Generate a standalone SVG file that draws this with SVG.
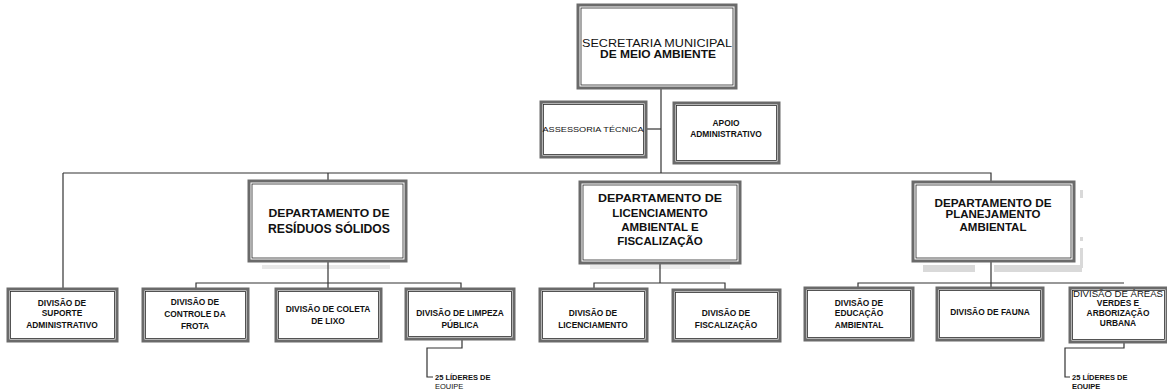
<svg xmlns="http://www.w3.org/2000/svg" width="1167" height="389" viewBox="0 0 1167 389">
<style>
.bg{fill:#ffffff}
.outer{fill:#ffffff;stroke:#6a6a6a;stroke-width:3}
.inner{fill:none;stroke:#2a2a2a;stroke-width:0.8}
.line{fill:none;stroke:#333;stroke-width:1.2}
.shadow{fill:#d9d9d9}
text{font-family:"Liberation Sans",Arial,sans-serif;fill:#111;text-anchor:middle}
.sec{font-size:10.5px}
.secb{font-size:10.5px;font-weight:bold}
.dept{font-size:11.5px;font-weight:bold}
.deptb{font-size:13.5px;font-weight:bold}
.div{font-size:8.4px;font-weight:bold}
.small{font-size:7px}
.lead{font-size:7.5px;font-weight:bold;text-anchor:start}
</style>
<rect class="bg" x="0" y="0" width="1167" height="389"/>
<g id="decor">
<rect class="shadow" x="262" y="265" width="128" height="4" opacity="0.6"/>
<rect class="shadow" x="590" y="265" width="140" height="4" opacity="0.5"/>
<rect class="shadow" x="923" y="265" width="52" height="7"/>
<rect class="shadow" x="994" y="265" width="88" height="7"/>
<rect class="shadow" x="1080" y="190" width="3" height="8"/>
<rect class="shadow" x="1080" y="237" width="3" height="4"/>
<rect class="shadow" x="1080" y="248" width="3" height="20"/>
</g>
<g id="connectors">
<path class="line" d="M661 89 V173"/>
<path class="line" d="M646 129 H661"/>
<path class="line" d="M63 173 H991 V182"/>
<path class="line" d="M63 173 V289"/>
<path class="line" d="M328 173 V181"/>
<path class="line" d="M328 261 V283"/>
<path class="line" d="M196 289 V283 H461 V289"/>
<path class="line" d="M328 283 V289"/>
<path class="line" d="M660 263 V283"/>
<path class="line" d="M594 289 V283 H725 V290"/>
<path class="line" d="M991 261 V283"/>
<path class="line" d="M858 288 V283 H1124"/>
<path class="line" d="M991 283 V288"/>
<path class="line" d="M462 340 V348 H427 V377 H433"/>
<path class="line" d="M1124 342 V348 H1065 V377 H1070"/>
</g>
<g id="n-secretaria">
<rect class="outer" x="578" y="5" width="158" height="83"/>
<rect class="inner" x="581" y="8" width="152" height="77"/>
<text class="sec" x="657" y="47" textLength="150" lengthAdjust="spacingAndGlyphs">SECRETARIA MUNICIPAL</text>
<text class="secb" x="658" y="58" textLength="116" lengthAdjust="spacingAndGlyphs">DE MEIO AMBIENTE</text>
</g>
<g id="n-assessoria">
<rect class="outer" x="541" y="102" width="105" height="55"/>
<rect class="inner" x="543.5" y="104.5" width="100" height="50"/>
<text class="small" x="593" y="131.5" textLength="101" lengthAdjust="spacingAndGlyphs">ASSESSORIA TÉCNICA</text>
</g>
<g id="n-apoio">
<rect class="outer" x="674" y="103" width="105" height="60"/>
<rect class="inner" x="676.5" y="105.5" width="100" height="55"/>
<text class="div" x="726" y="125.5">APOIO</text>
<text class="div" x="726" y="136.5">ADMINISTRATIVO</text>
</g>
<g id="n-dep-residuos">
<rect class="outer" x="249" y="181" width="157" height="80"/>
<rect class="inner" x="252" y="184" width="151" height="74"/>
<text class="dept" x="329" y="217" textLength="121" lengthAdjust="spacingAndGlyphs">DEPARTAMENTO DE</text>
<text class="deptb" x="329" y="233" textLength="122" lengthAdjust="spacingAndGlyphs">RESÍDUOS SÓLIDOS</text>
</g>
<g id="n-dep-licenciamento">
<rect class="outer" x="580" y="182" width="160" height="81"/>
<rect class="inner" x="583" y="185" width="154" height="75"/>
<text class="dept" x="660" y="202" textLength="124" lengthAdjust="spacingAndGlyphs">DEPARTAMENTO DE</text>
<text class="dept" x="660" y="217">LICENCIAMENTO</text>
<text class="dept" x="660" y="231">AMBIENTAL E</text>
<text class="dept" x="660" y="245">FISCALIZAÇÃO</text>
</g>
<g id="n-dep-planejamento">
<rect class="outer" x="913" y="182" width="161" height="79"/>
<rect class="inner" x="916" y="185" width="155" height="73"/>
<text class="dept" x="993" y="207" textLength="117" lengthAdjust="spacingAndGlyphs">DEPARTAMENTO DE</text>
<text class="dept" x="993" y="218">PLANEJAMENTO</text>
<text class="dept" x="993" y="231">AMBIENTAL</text>
</g>
<g id="n-div-suporte">
<rect class="outer" x="8" y="289" width="109" height="52"/>
<rect class="inner" x="10.5" y="291.5" width="104" height="47"/>
<text class="div" x="62" y="305.5">DIVISÃO DE</text>
<text class="div" x="62" y="316">SUPORTE</text>
<text class="div" x="62" y="327.5">ADMINISTRATIVO</text>
</g>
<g id="n-div-frota">
<rect class="outer" x="143" y="289" width="105" height="52"/>
<rect class="inner" x="145.5" y="291.5" width="100" height="47"/>
<text class="div" x="195" y="305">DIVISÃO DE</text>
<text class="div" x="195" y="317">CONTROLE DA</text>
<text class="div" x="195" y="329">FROTA</text>
</g>
<g id="n-div-coleta">
<rect class="outer" x="276" y="289" width="105" height="52"/>
<rect class="inner" x="278.5" y="291.5" width="100" height="47"/>
<text class="div" x="328" y="311.5">DIVISÃO DE COLETA</text>
<text class="div" x="328" y="324">DE LIXO</text>
</g>
<g id="n-div-limpeza">
<rect class="outer" x="406" y="289" width="108" height="50"/>
<rect class="inner" x="408.5" y="291.5" width="103" height="45"/>
<text class="div" x="460" y="315.5">DIVISÃO DE LIMPEZA</text>
<text class="div" x="460" y="327.5">PÚBLICA</text>
</g>
<g id="n-div-licenciamento">
<rect class="outer" x="540" y="289" width="107" height="52"/>
<rect class="inner" x="542.5" y="291.5" width="102" height="47"/>
<text class="div" x="593" y="315.5">DIVISÃO DE</text>
<text class="div" x="593" y="327.5">LICENCIAMENTO</text>
</g>
<g id="n-div-fiscalizacao">
<rect class="outer" x="673" y="290" width="107" height="51"/>
<rect class="inner" x="675.5" y="292.5" width="102" height="46"/>
<text class="div" x="726" y="315.5">DIVISÃO DE</text>
<text class="div" x="726" y="327.5">FISCALIZAÇÃO</text>
</g>
<g id="n-div-educacao">
<rect class="outer" x="805" y="288" width="108" height="52"/>
<rect class="inner" x="807.5" y="290.5" width="103" height="47"/>
<text class="div" x="859" y="305.5">DIVISÃO DE</text>
<text class="div" x="859" y="316">EDUCAÇÃO</text>
<text class="div" x="859" y="327.5">AMBIENTAL</text>
</g>
<g id="n-div-fauna">
<rect class="outer" x="937" y="288" width="106" height="52"/>
<rect class="inner" x="939.5" y="290.5" width="101" height="47"/>
<text class="div" x="990" y="315">DIVISÃO DE FAUNA</text>
</g>
<g id="n-div-areas">
<rect class="outer" x="1070" y="288" width="97" height="54"/>
<rect class="inner" x="1072.5" y="290.5" width="92" height="49"/>
<text class="div" x="1118" y="297" style="font-weight:normal" textLength="90" lengthAdjust="spacingAndGlyphs">DIVISÃO DE ÁREAS</text>
<text class="div" x="1118" y="306">VERDES E</text>
<text class="div" x="1118" y="316">ARBORIZAÇÃO</text>
<text class="div" x="1118" y="326">URBANA</text>
</g>
<g id="n-lideres-limpeza">
<text class="lead" x="435" y="380">25 LÍDERES DE</text>
<text class="lead" x="435" y="389" style="font-weight:normal">EQUIPE</text>
</g>
<g id="n-lideres-areas">
<text class="lead" x="1072" y="380">25 LÍDERES DE</text>
<text class="lead" x="1072" y="389">EQUIPE</text>
</g>
</svg>
